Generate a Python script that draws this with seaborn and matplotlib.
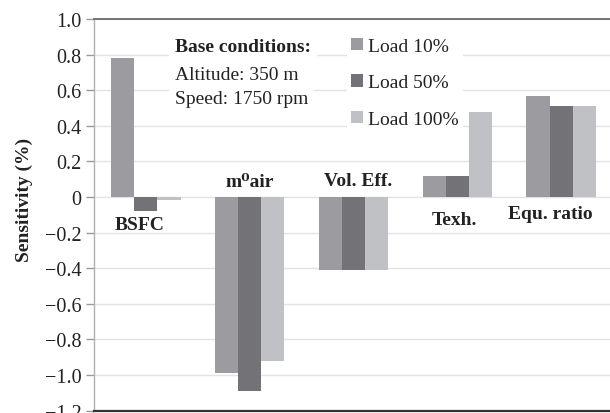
import matplotlib
matplotlib.use("Agg")
import matplotlib.pyplot as plt
import seaborn as sns
import pandas as pd
from matplotlib.ticker import FixedLocator, FuncFormatter

categories = ["BSFC", "m\u2070air", "Vol. Eff.", "Texh.", "Equ. ratio"]
loads = ["Load 10%", "Load 50%", "Load 100%"]
load10 = [0.78, -0.99, -0.41, 0.12, 0.57]
load50 = [-0.08, -1.09, -0.41, 0.12, 0.51]
load100 = [-0.015, -0.92, -0.41, 0.48, 0.51]
yticks = [1.0, 0.8, 0.6, 0.4, 0.2, 0.0, -0.2, -0.4, -0.6, -0.8, -1.0, -1.2]
info_lines = ["Base conditions:", "Altitude: 350 m", "Speed: 1750 rpm"]

rows = []
for name, vals in zip(loads, [load10, load50, load100]):
    for c, v in zip(categories, vals):
        rows.append({"Parameter": c, "Load": name, "Sensitivity": v})
df = pd.DataFrame(rows)

sns.set_style("white")
plt.rcParams["font.family"] = ["Liberation Serif", "DejaVu Serif"]

W, H = 610, 414
fig = plt.figure(figsize=(W / 100, H / 100), dpi=100)
ax = fig.add_axes([94 / W, (H - 411.7) / H, (613 - 94) / W, (411.7 - 20) / H])

palette = {"Load 10%": "#9c9ca0", "Load 50%": "#737377", "Load 100%": "#c0c1c4"}
sns.barplot(data=df, x="Parameter", y="Sensitivity", hue="Load",
            order=categories, hue_order=loads, palette=palette,
            width=0.667, gap=0, linewidth=0, saturation=1, ax=ax, legend=True, zorder=3)

ax.set_xlim(-0.5, 4.5)
ax.set_ylim(-1.2, 1.0)
ax.yaxis.set_major_locator(FixedLocator(yticks))

def fmt(v, pos):
    if abs(v) < 1e-9:
        return "0"
    s = f"{abs(v):.1f}"
    return ("\u2212" + s) if v < 0 else s

ax.yaxis.set_major_formatter(FuncFormatter(fmt))
ax.tick_params(axis="y", which="major", left=True, length=6, width=1, color="#999999",
               labelsize=14.5, pad=3, labelcolor="#222222")
ax.set_xticks([])
ax.set_xlabel("")
ax.set_ylabel("Sensitivity (%)", fontsize=14, fontweight="bold", color="#222222")
ax.yaxis.set_label_coords(-0.118, 0.54)

ax.grid(axis="y", color="#e3e3e3", linewidth=1, zorder=0)
ax.set_axisbelow(True)
for s in ["left", "top", "bottom", "right"]:
    ax.spines[s].set_visible(True)
ax.spines["left"].set_color("#b0b0b0")
ax.spines["left"].set_linewidth(1)
ax.spines["top"].set_color("#6a6a6a")
ax.spines["top"].set_linewidth(1.3)
ax.spines["bottom"].set_color("#333333")
ax.spines["bottom"].set_linewidth(1.6)
ax.spines["right"].set_visible(False)

# category labels inside the plot
label_offsets = [(-0.06, -0.157), (0.0, 0.09), (0.04, 0.095), (-0.03, -0.124), (-0.1, -0.09)]
for i, (c, (dx, yy)) in enumerate(zip(categories, label_offsets)):
    ax.text(i + dx, yy, c, ha="center", va="center", fontsize=14, fontweight="bold",
            color="#222222", zorder=5)

# base conditions text
info_y = [47, 75, 100]
for j, (t, yy) in enumerate(zip(info_lines, info_y)):
    fig.text(175 / W, 1 - yy / H, t, ha="left", va="center", fontsize=14,
             fontweight="bold" if j == 0 else "normal", color="#222222",
             bbox=dict(facecolor="white", edgecolor="none", pad=4), zorder=6)

# legend
handles, labels = ax.get_legend_handles_labels()
leg = ax.legend(handles, labels, loc="upper left", bbox_to_anchor=(347 / W, 1 - 35 / H),
                bbox_transform=fig.transFigure, frameon=True, fontsize=14,
                handlelength=0.6, handleheight=0.6, handletextpad=0.3,
                labelspacing=1.0, borderpad=0.2, borderaxespad=0)
leg.get_frame().set_facecolor("white")
leg.get_frame().set_edgecolor("none")
leg.get_frame().set_alpha(1)
for txt in leg.get_texts():
    txt.set_color("#222222")

fig.savefig("out.png", dpi=100)
